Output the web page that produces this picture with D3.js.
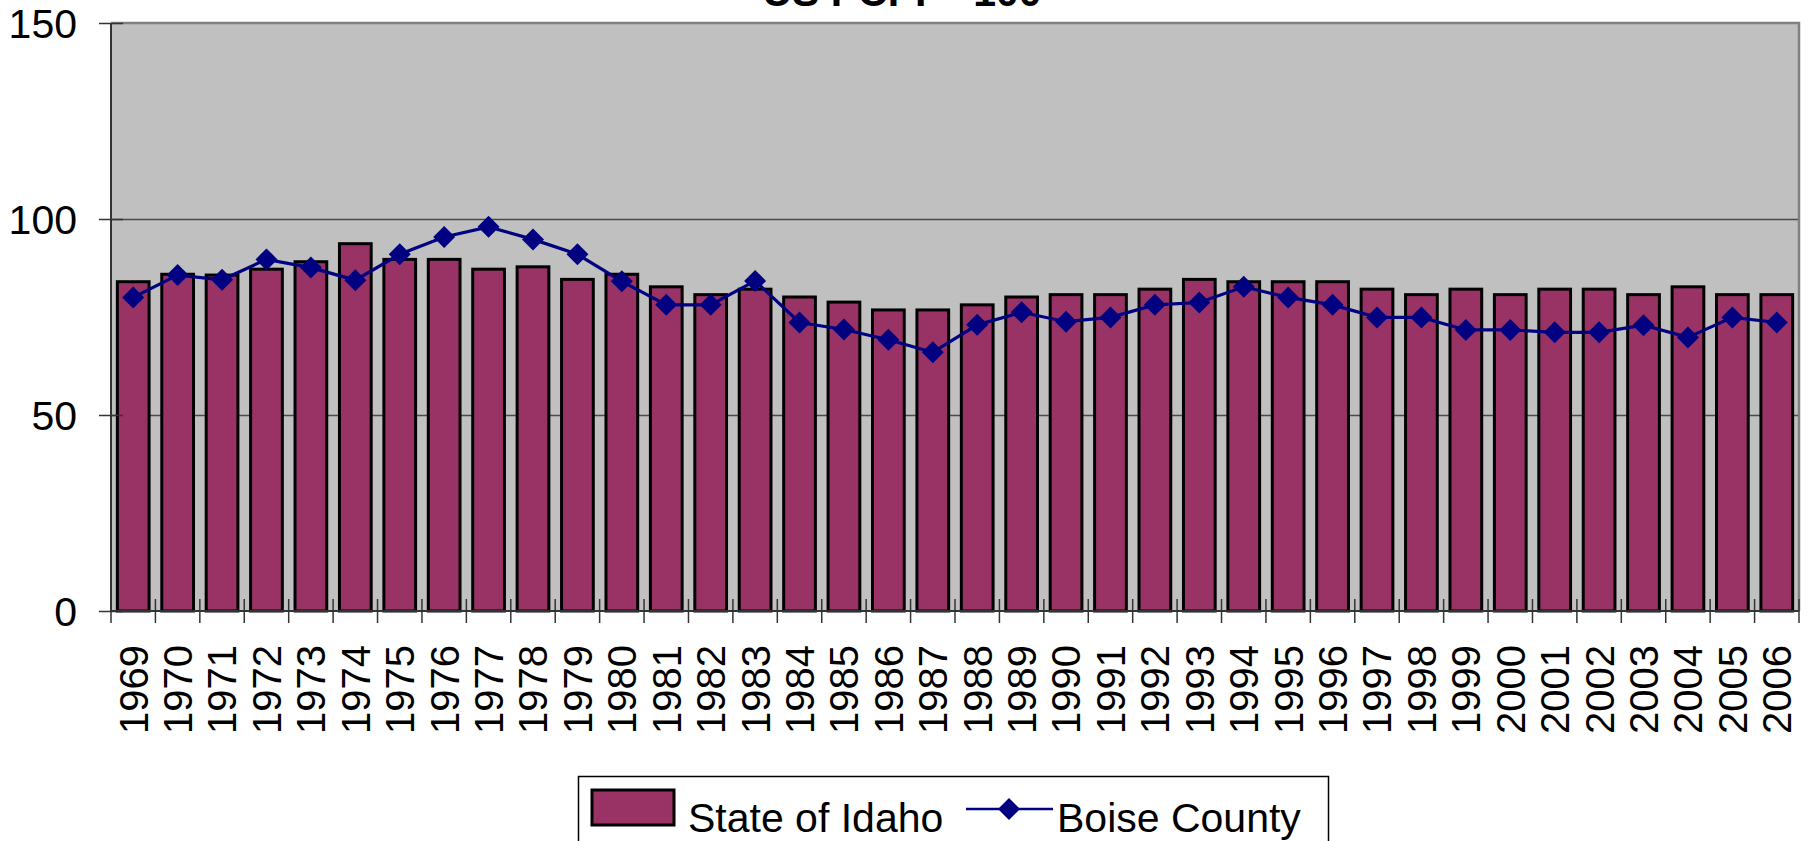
<!DOCTYPE html>
<html>
<head>
<meta charset="utf-8">
<script src="https://cdn.jsdelivr.net/npm/d3@7"></script>
<style>
  html, body { margin: 0; padding: 0; background: #fff; }
  svg { display: block; font-family: "Liberation Sans", Arial, sans-serif; }
</style>
</head>
<body>
<svg id="chart" width="1811" height="841"></svg>
<script>
const years = d3.range(1969, 2007).map(String);
const idaho = [84.0, 85.9, 85.7, 87.2, 89.1, 93.7, 89.7, 89.7, 87.2, 87.8,
    84.6, 85.9, 82.7, 80.7, 82.1, 80.1, 78.8, 76.8, 76.8, 78.1,
    80.1, 80.7, 80.7, 82.1, 84.6, 84.0, 84.0, 84.0, 82.1, 80.7,
    82.1, 80.7, 82.1, 82.1, 80.7, 82.7, 80.7, 80.7];
const boise = [80.0, 85.7, 84.5, 89.7, 87.6, 84.4, 91.0, 95.4, 98.0, 94.8,
    91.0, 84.1, 78.1, 78.1, 84.2, 73.6, 71.8, 69.2, 66.0, 73.0,
    76.2, 73.8, 74.9, 78.1, 78.7, 82.7, 80.0, 78.1, 74.9, 74.9,
    71.7, 71.7, 71.1, 71.1, 72.9, 69.8, 74.9, 73.6];
const yTicks = [0, 50, 100, 150];
const titleText = "US PCPI = 100";
const seriesNames = ["State of Idaho", "Boise County"];

const svg = d3.select("#chart");
const margin = {top: 23, right: 12, bottom: 230, left: 111};
const width = 1811 - margin.left - margin.right;
const height = 841 - margin.top - margin.bottom;

const x = d3.scaleBand().domain(years).range([0, width]);
const y = d3.scaleLinear().domain([0, 150]).range([height, 0]);
const barW = x.bandwidth() / 1.4;

// title, mostly cut off by the top of the picture
svg.append("text")
    .attr("x", 902)
    .attr("y", 6)
    .attr("text-anchor", "middle")
    .style("font-size", "41px")
    .style("font-weight", "bold")
    .text(titleText);

const g = svg.append("g")
    .attr("transform", `translate(${margin.left}, ${margin.top})`);

g.append("rect")
    .attr("width", width)
    .attr("height", height)
    .attr("fill", "#c0c0c0");

// gridlines
g.append("g")
    .call(d3.axisLeft(y).tickValues([50, 100]).tickSize(-width).tickFormat(""))
    .call(s => s.select(".domain").remove())
    .selectAll("line")
    .attr("stroke", "#4a4a4a")
    .attr("stroke-width", 1.5);

// plot border (top and right)
g.append("path")
    .attr("d", `M0,0H${width}V${height}`)
    .attr("fill", "none")
    .attr("stroke", "#808080")
    .attr("stroke-width", 2.5);

// bars
g.selectAll(".bar")
    .data(idaho)
    .join("rect")
    .attr("class", "bar")
    .attr("x", (d, i) => x(years[i]) + (x.bandwidth() - barW) / 2)
    .attr("y", d => y(d))
    .attr("width", barW)
    .attr("height", d => height - y(d))
    .attr("fill", "#993366")
    .attr("stroke", "#000")
    .attr("stroke-width", 3);

// y axis
const yAxis = g.append("g")
    .call(d3.axisLeft(y).tickValues(yTicks).tickSize(12).tickPadding(0));
yAxis.select(".domain").attr("stroke", "#333").attr("stroke-width", 2).attr("d", `M0,0V${height}`);
yAxis.selectAll(".tick line").attr("x1", -12).attr("x2", 12).attr("stroke", "#333").attr("stroke-width", 1.5);
yAxis.selectAll(".tick text")
    .attr("x", -34)
    .attr("dy", "0.36em")
    .attr("fill", "#000")
    .style("font-size", "41px")
    .style("font-family", "Liberation Sans, Arial, sans-serif");

// x axis
const xAxis = g.append("g")
    .attr("transform", `translate(0, ${height})`)
    .call(d3.axisBottom(x).tickSize(0).tickPadding(0));
xAxis.select(".domain").attr("stroke", "#333").attr("stroke-width", 2).attr("d", `M0,0H${width}`);
xAxis.selectAll(".tick text")
    .attr("transform", "rotate(-90)")
    .attr("text-anchor", "end")
    .attr("x", -34)
    .attr("y", 0)
    .attr("dy", "0.36em")
    .attr("fill", "#000")
    .style("font-size", "40px")
    .style("font-family", "Liberation Sans, Arial, sans-serif");

xAxis.selectAll(".bound")
    .data(years.map(d => x(d)).concat([width]))
    .join("line")
    .attr("class", "bound")
    .attr("x1", d => d)
    .attr("x2", d => d)
    .attr("y1", -12)
    .attr("y2", 12)
    .attr("stroke", "#333")
    .attr("stroke-width", 1.5);

// line series
const line = d3.line()
    .x((d, i) => x(years[i]) + x.bandwidth() / 2)
    .y(d => y(d));

g.append("path")
    .datum(boise)
    .attr("d", line)
    .attr("fill", "none")
    .attr("stroke", "#000080")
    .attr("stroke-width", 3.2);

const diamond = r => `M0,${-r}L${r},0L0,${r}L${-r},0Z`;

g.selectAll(".dot")
    .data(boise)
    .join("path")
    .attr("class", "dot")
    .attr("transform", (d, i) => `translate(${x(years[i]) + x.bandwidth() / 2}, ${y(d)})`)
    .attr("d", diamond(11))
    .attr("fill", "#000080");

// legend
const legend = svg.append("g");
legend.append("rect")
    .attr("x", 578.5)
    .attr("y", 776.5)
    .attr("width", 750)
    .attr("height", 80)
    .attr("fill", "#fff")
    .attr("stroke", "#000")
    .attr("stroke-width", 1.5);

legend.append("rect")
    .attr("x", 592)
    .attr("y", 790)
    .attr("width", 82)
    .attr("height", 35)
    .attr("fill", "#993366")
    .attr("stroke", "#000")
    .attr("stroke-width", 3);

legend.append("text")
    .attr("x", 688)
    .attr("y", 832)
    .style("font-size", "41px")
    .text(seriesNames[0]);

legend.append("line")
    .attr("x1", 966)
    .attr("x2", 1053)
    .attr("y1", 809)
    .attr("y2", 809)
    .attr("stroke", "#000080")
    .attr("stroke-width", 2.5);

legend.append("path")
    .attr("transform", "translate(1009, 809)")
    .attr("d", diamond(11))
    .attr("fill", "#000080");

legend.append("text")
    .attr("x", 1057)
    .attr("y", 832)
    .style("font-size", "41px")
    .text(seriesNames[1]);
</script>
</body>
</html>
